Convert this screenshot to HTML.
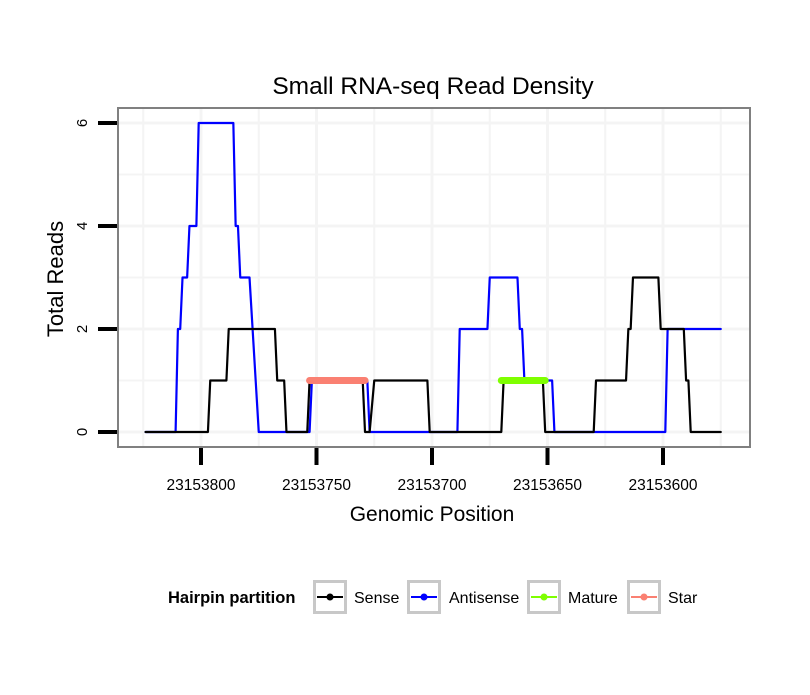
<!DOCTYPE html>
<html><head><meta charset="utf-8"><style>body{margin:0;background:#fff}svg text{font-family:"Liberation Sans",sans-serif}</style></head>
<body>
<svg id="chart" width="810" height="690" xmlns="http://www.w3.org/2000/svg">
<rect width="810" height="690" fill="#fff"/>
<text x="433" y="94" font-size="24.5" text-anchor="middle">Small RNA-seq Read Density</text>
<g id="grid"></g>
<g id="series"></g>
<rect x="118" y="108" width="632" height="339" fill="none" stroke="#808080" stroke-width="2"/>
<g id="axes"></g>
<text x="432" y="521" font-size="21" text-anchor="middle">Genomic Position</text>
<text transform="translate(63,279) rotate(-90)" font-size="22" text-anchor="middle">Total Reads</text>
<g>
<text x="168" y="603" font-size="16.5" font-weight="bold">Hairpin partition</text>
<g><rect x="314.5" y="581.5" width="31" height="31" fill="none" stroke="#c8c8c8" stroke-width="3"/><line x1="317" y1="597" x2="343" y2="597" stroke="#000" stroke-width="2"/><circle cx="330" cy="597" r="3.5" fill="#000"/><text x="354" y="603" font-size="16">Sense</text></g>
<g><rect x="408.5" y="581.5" width="31" height="31" fill="none" stroke="#c8c8c8" stroke-width="3"/><line x1="411" y1="597" x2="437" y2="597" stroke="#00f" stroke-width="2"/><circle cx="424" cy="597" r="3.5" fill="#00f"/><text x="449" y="603" font-size="16">Antisense</text></g>
<g><rect x="528.5" y="581.5" width="31" height="31" fill="none" stroke="#c8c8c8" stroke-width="3"/><line x1="531" y1="597" x2="557" y2="597" stroke="#7fff00" stroke-width="2"/><circle cx="544" cy="597" r="3.5" fill="#7fff00"/><text x="568" y="603" font-size="16">Mature</text></g>
<g><rect x="628.5" y="581.5" width="31" height="31" fill="none" stroke="#c8c8c8" stroke-width="3"/><line x1="631" y1="597" x2="657" y2="597" stroke="#fa8072" stroke-width="2"/><circle cx="644" cy="597" r="3.5" fill="#fa8072"/><text x="668" y="603" font-size="16">Star</text></g>
</g>
</svg>
<script>
const senseX=[23153824,23153797,23153796,23153789,23153788,23153768,23153767,23153764,23153763,23153754,23153753,23153730,23153729,23153727,23153725,23153702,23153701,23153670,23153669,23153652,23153651,23153630,23153629,23153616,23153615,23153614,23153613,23153602,23153601,23153591,23153590,23153589,23153588,23153575];
const senseY=[0,0,1,1,2,2,1,1,0,0,1,1,0,0,1,1,0,0,1,1,0,0,1,1,2,2,3,3,2,2,1,1,0,0];
const antiX=[23153824,23153811,23153810,23153809,23153808,23153806,23153805,23153802,23153801,23153786,23153785,23153784,23153783,23153779,23153775,23153753,23153752,23153728,23153727,23153689,23153688,23153676,23153675,23153663,23153662,23153661,23153660,23153648,23153647,23153599,23153598,23153575];
const antiY=[0,0,2,2,3,3,4,4,6,6,4,4,3,3,0,0,1,1,0,0,2,2,3,3,2,2,1,1,0,0,2,2];
const matureX=[23153670,23153651];const matureY=[1,1];
const starX=[23153753,23153729];const starY=[1,1];
const xTicks=[23153800,23153750,23153700,23153650,23153600];
const yTicks=[0,2,4,6];
const NS="http://www.w3.org/2000/svg";
const xs=v=>201+(23153800-v)*2.31;
const ys=v=>432-v*51.5;
function mk(tag,attrs,parent){const e=document.createElementNS(NS,tag);for(const k in attrs)e.setAttribute(k,attrs[k]);parent.appendChild(e);return e;}
const grid=document.getElementById('grid'),ser=document.getElementById('series'),ax=document.getElementById('axes');
for(let v=0;v<=6;v++){const l=mk('line',{x1:119,x2:749,y1:ys(v),y2:ys(v),stroke:'#f4f4f4','stroke-width':v%2?2:3},grid);

}
for(let v=23153825;v>=23153575;v-=25){const x=xs(v);if(x<119||x>749)continue;const l=mk('line',{x1:x,x2:x,y1:109,y2:446,stroke:'#f4f4f4','stroke-width':(v%50===0)?3:2},grid);

}
function line(X,Y,color,w,name){const p=mk('polyline',{points:X.map((x,i)=>xs(x)+','+ys(Y[i])).join(' '),fill:'none',stroke:color,'stroke-width':w,'stroke-linecap':'round','stroke-linejoin':'round'},ser);

}
line(antiX,antiY,'#00f',2.2,'antisense-line');
line(senseX,senseY,'#000',2.2,'sense-line');
line(starX,starY,'#fa8072',7,'star-segment');
line(matureX,matureY,'#7fff00',7,'mature-segment');
yTicks.forEach(v=>{const t=mk('line',{x1:98,x2:117,y1:ys(v),y2:ys(v),stroke:'#000','stroke-width':4},ax);


const tx=mk('text',{transform:`translate(87,${ys(v)}) rotate(-90)`,'font-size':15,'text-anchor':'middle'},ax);tx.textContent=v;

});
xTicks.forEach(v=>{const t=mk('line',{x1:xs(v),x2:xs(v),y1:448,y2:465,stroke:'#000','stroke-width':4},ax);


const tx=mk('text',{x:xs(v),y:490,'font-size':15.5,'text-anchor':'middle'},ax);tx.textContent=v;

});
</script>
</body></html>
